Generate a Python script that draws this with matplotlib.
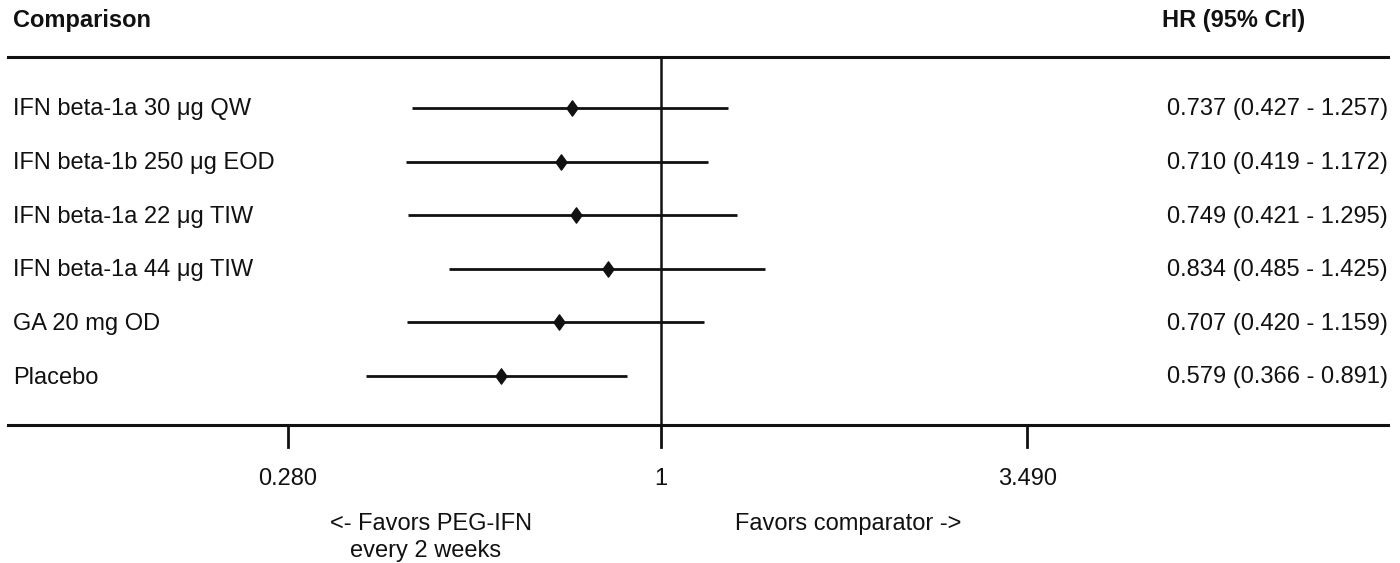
import numpy as np
import matplotlib
matplotlib.use('Agg')
import matplotlib.pyplot as plt
import matplotlib.transforms as mtransforms

plt.rcParams['font.family'] = ['Liberation Sans', 'DejaVu Sans']

# data
comparisons = ['IFN beta-1a 30 μg QW', 'IFN beta-1b 250 μg EOD', 'IFN beta-1a 22 μg TIW',
               'IFN beta-1a 44 μg TIW', 'GA 20 mg OD', 'Placebo']
hr = [0.737, 0.710, 0.749, 0.834, 0.707, 0.579]
lower = [0.427, 0.419, 0.421, 0.485, 0.420, 0.366]
upper = [1.257, 1.172, 1.295, 1.425, 1.159, 0.891]
tick_vals = [0.280, 1, 3.490]
tick_labels = ['0.280', '1', '3.490']

W, H = 1400, 563
fig = plt.figure(figsize=(W / 100, H / 100), dpi=100)
ax = fig.add_axes([0, 0, 1, 1])
ax.set_xscale('log')
px_per_unit = 293.0
ax.set_xlim(np.exp(-661 / px_per_unit), np.exp((W - 661) / px_per_unit))
ax.set_ylim(H, 0)
ax.axis('off')

# x in pixel fraction, y in data (pixel rows)
trans = mtransforms.blended_transform_factory(ax.transAxes, ax.transData)

ys = 108 + 53.6 * np.arange(len(comparisons))
fs = 17
col = '#111111'
diamond = [(-0.72, 0), (0, 1), (0.72, 0), (0, -1), (-0.72, 0)]

# header
ax.text(13 / W, 21, 'Comparison', transform=trans, fontsize=fs, fontweight='bold',
        ha='left', va='center', color=col)
ax.text(1305 / W, 21, 'HR (95% Crl)', transform=trans, fontsize=fs, fontweight='bold',
        ha='right', va='center', color=col)

# frame lines
ax.axhline(57, xmin=8 / W, xmax=1388 / W, lw=2.2, color=col)
ax.axhline(425, xmin=8 / W, xmax=1388 / W, lw=2.2, color=col)
ax.plot([1, 1], [57, 425], lw=1.8, color=col)

# ticks
for t, lab in zip(tick_vals, tick_labels):
    ax.plot([t, t], [425, 447], lw=2, color=col)
    ax.text(t, 479, lab, fontsize=fs, ha='center', va='center', color=col)

# rows
ax.hlines(ys, lower, upper, lw=2, color=col)
ax.plot(hr, ys, linestyle='none', marker=diamond, ms=11, color=col)
for y, name, h, lo, hi in zip(ys, comparisons, hr, lower, upper):
    ax.text(13 / W, y + 1.5, name, transform=trans, fontsize=fs, ha='left', va='center', color=col)
    ax.text(1388 / W, y + 1.5, f'{h:.3f} ({lo:.3f} - {hi:.3f})', transform=trans,
            fontsize=fs, ha='right', va='center', color=col)

# favors labels
ax.text(330 / W, 524, '<- Favors PEG-IFN', transform=trans, fontsize=fs,
        ha='left', va='center', color=col)
ax.text(350 / W, 551, 'every 2 weeks', transform=trans, fontsize=fs,
        ha='left', va='center', color=col)
ax.text(735 / W, 524, 'Favors comparator ->', transform=trans, fontsize=fs,
        ha='left', va='center', color=col)

fig.savefig('out.png', dpi=100, facecolor='white')
